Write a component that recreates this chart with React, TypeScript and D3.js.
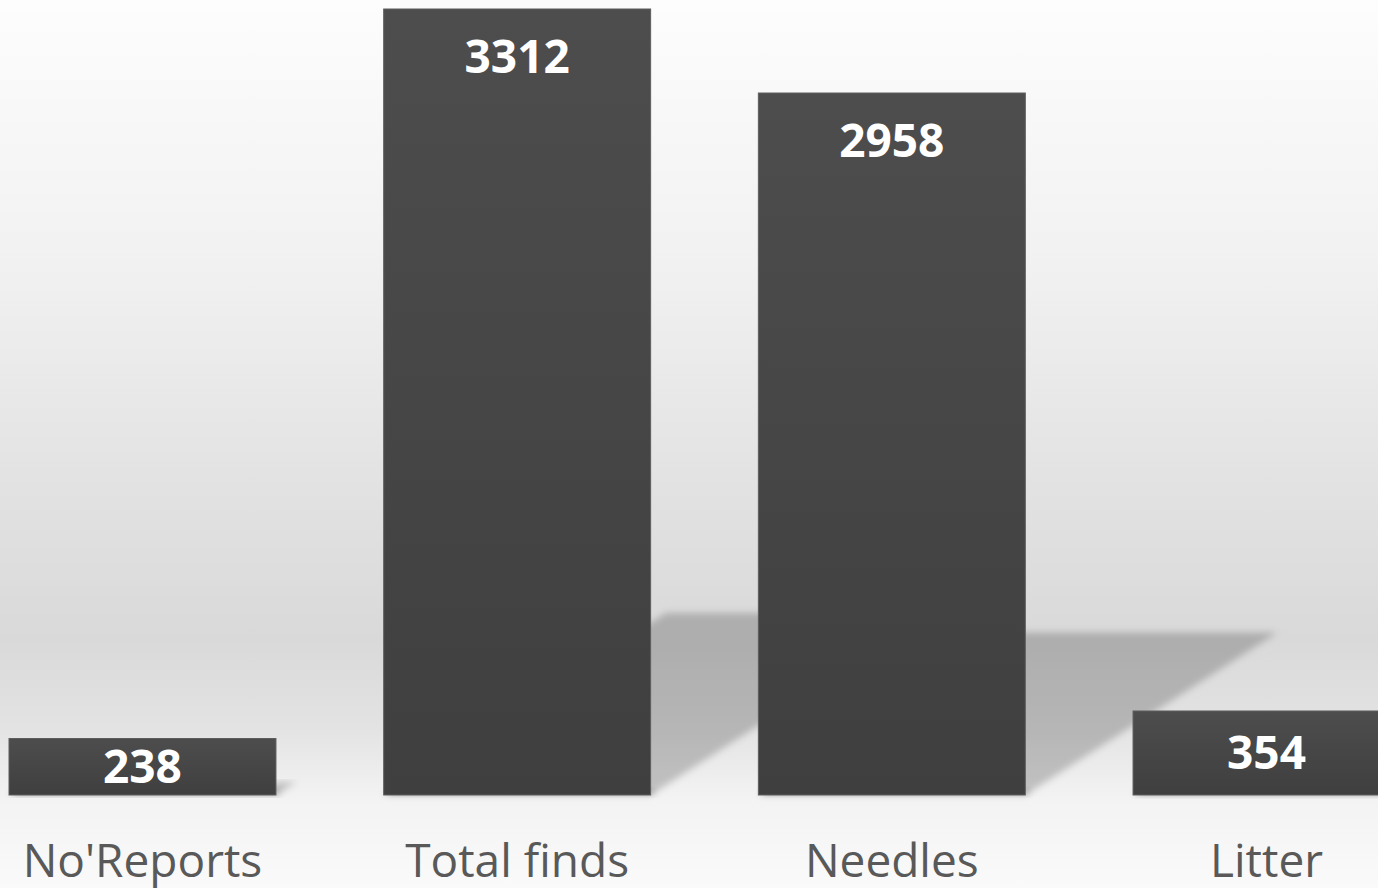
import React from "react";
import * as d3 from "d3";

const categories = ["No'Reports", "Total finds", "Needles", "Litter"];
const values = [238, 3312, 2958, 354];

const W = 1378;
const H = 888;
const baseY = 795;

export default function App() {
  const x = d3
    .scaleBand<string>()
    .domain(categories)
    .range([9, 1400])
    .paddingInner(0.2875)
    .paddingOuter(0);
  const y = d3.scaleLinear().domain([0, 3312]).range([baseY, 9]);
  const bw = x.bandwidth();
  const shadowRatio = 0.2316;
  const skew = 1.55;

  return (
    <svg
      width={W}
      height={H}
      style={{ position: "fixed", left: 0, top: 0, display: "block" }}
      fontFamily="'Open Sans', sans-serif"
    >
      <defs>
        <linearGradient id="bg" x1="0" y1="0" x2="0" y2="1">
          <stop offset="0" stopColor="#fdfdfd" />
          <stop offset="0.3" stopColor="#f1f1f1" />
          <stop offset="0.55" stopColor="#e2e2e2" />
          <stop offset="0.72" stopColor="#d9d9d9" />
          <stop offset="0.82" stopColor="#e3e3e3" />
          <stop offset="0.9" stopColor="#f3f3f3" />
          <stop offset="1" stopColor="#fafafa" />
        </linearGradient>
        <linearGradient id="barg" x1="0" y1="0" x2="0" y2="1">
          <stop offset="0" stopColor="#4d4d4d" />
          <stop offset="1" stopColor="#3f3f3f" />
        </linearGradient>
        <filter id="blur" x="-20%" y="-20%" width="140%" height="140%">
          <feGaussianBlur stdDeviation="3.5" />
        </filter>
        <filter id="blur2" x="-50%" y="-50%" width="200%" height="200%">
          <feGaussianBlur stdDeviation="3" />
        </filter>
      </defs>
      <rect x={0} y={0} width={W} height={H} fill="url(#bg)" />
      {/* perspective shadows */}
      {categories.map((c, i) => {
        const x0 = x(c)!;
        const x1 = x0 + bw;
        const h = (baseY - y(values[i])) * shadowRatio;
        const dx = h * skew;
        const p = `M${x0},${baseY} L${x1},${baseY} L${x1 + dx},${baseY - h} L${x0 + dx},${baseY - h} Z`;
        return (
          <path key={"s" + c} d={p} fill="#000" fillOpacity={0.2} filter="url(#blur)" />
        );
      })}
      {/* small contact shadow at bar bottoms */}
      {categories.map((c) => (
        <rect
          key={"cs" + c}
          x={x(c)! + 4}
          y={baseY - 6}
          width={bw}
          height={6}
          fill="#000"
          fillOpacity={0.15}
          filter="url(#blur2)"
        />
      ))}
      {categories.map((c, i) => (
        <rect
          key={"b" + c}
          x={x(c)!}
          y={y(values[i])}
          width={bw}
          height={baseY - y(values[i])}
          fill="url(#barg)"
          stroke="#5e5e5e"
          strokeWidth={1}
        />
      ))}
      {categories.map((c, i) => {
        const top = y(values[i]);
        const cy = Math.min(top + 47.5, (top + baseY) / 2);
        return (
          <text
            key={"v" + c}
            x={x(c)! + bw / 2}
            y={cy + 16.5}
            textAnchor="middle"
            fill="#ffffff"
            fontWeight={700}
            fontSize={46}
          >
            {values[i]}
          </text>
        );
      })}
      {categories.map((c) => (
        <text
          key={"c" + c}
          x={x(c)! + bw / 2}
          y={877}
          textAnchor="middle"
          fill="#595959"
          fontSize={46}
        >
          {c}
        </text>
      ))}
    </svg>
  );
}
